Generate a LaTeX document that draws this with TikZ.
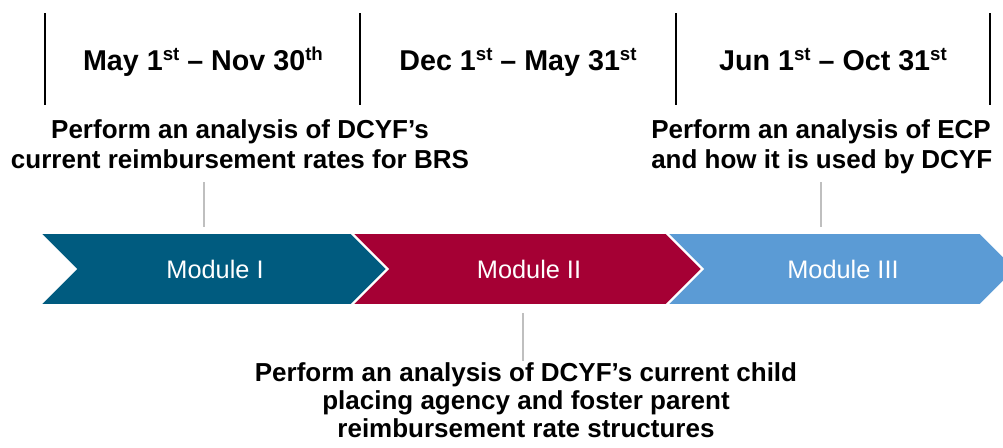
\documentclass[tikz,border=0pt]{standalone}
\usepackage{fontspec}
\setmainfont{Liberation Sans}
\usepackage{xcolor}

\definecolor{modone}{RGB}{0,91,127}
\definecolor{modtwo}{RGB}{165,0,52}
\definecolor{modthree}{RGB}{91,155,213}
\definecolor{leadergray}{RGB}{191,191,191}

\newcommand{\ordsup}[1]{\raisebox{6.8pt}{\fontsize{14}{14}\selectfont #1}}

\tikzset{
  datelabel/.style={font=\fontsize{21.5}{26}\selectfont\bfseries, inner sep=0.75pt},
  tasklabel/.style={font=\fontsize{19.5}{22.5}\selectfont\bfseries, inner sep=0.75pt},
  modlabel/.style={font=\fontsize{19}{23}\selectfont, text=white, inner sep=0.75pt},
  chevron/.style={draw=white, line width=1.2pt, line join=miter},
  divider/.style={color=black, line width=1pt},
  leader/.style={color=leadergray, line width=1.3pt},
}

\begin{document}
\begin{tikzpicture}[x=0.75pt,y=0.75pt,yscale=-1,xscale=1]
\useasboundingbox (0,0) rectangle (1003,447);
\clip (0,0) rectangle (1003,447);

%Shape: Divider lines
\draw [divider] (45,13) -- (45,105) ;
\draw [divider] (360,13) -- (360,105) ;
\draw [divider] (676,13) -- (676,105) ;
\draw [divider] (990,13) -- (990,105) ;

% Text Node
\draw (203,70) node (date1) [anchor=base][datelabel] {May 1\ordsup{st} -- Nov 30\ordsup{th}};
% Text Node
\draw (518,70) node (date2) [anchor=base][datelabel] {Dec 1\ordsup{st} -- May 31\ordsup{st}};
% Text Node
\draw (833,70) node (date3) [anchor=base][datelabel] {Jun 1\ordsup{st} -- Oct 31\ordsup{st}};

%Shape: Chevron
\draw [chevron, fill=modone] (40,233) -- (351,233) -- (387,269) -- (351,305) -- (40,305) -- (76,269) -- cycle ;
%Shape: Chevron
\draw [chevron, fill=modtwo] (352,233) -- (666,233) -- (702,269) -- (666,305) -- (352,305) -- (388,269) -- cycle ;
%Shape: Chevron
\draw [chevron, fill=modthree] (667,233) -- (980,233) -- (1016,269) -- (980,305) -- (667,305) -- (703,269) -- cycle ;

% Text Node
\draw (215,269) node (mod1) [modlabel] {Module I};
% Text Node
\draw (529,269) node (mod2) [modlabel] {Module II};
% Text Node
\draw (843,269) node (mod3) [modlabel] {Module III};

% Text Node
\draw (240,118) node (task1) [anchor=north][tasklabel][align=center] {Perform an analysis of DCYF’s\\current reimbursement rates for BRS};
% Text Node
\draw (650,118) node (task3) [anchor=north west][tasklabel][align=left] {Perform an analysis of ECP\\and how it is used by DCYF};
% Text Node
\draw (526,361) node (task2) [anchor=north][tasklabel][align=center,font=\fontsize{19.5}{21}\selectfont\bfseries] {Perform an analysis of DCYF’s current child\\placing agency and foster parent\\reimbursement rate structures};

%Leader lines
\coordinate (lead1a) at (204,182);
\coordinate (lead1b) at (204,227);
\coordinate (lead2a) at (523,313);
\coordinate (lead2b) at (523,361);
\coordinate (lead3a) at (821,182);
\coordinate (lead3b) at (821,227);
\draw [leader] (lead1a) -- (lead1b) ;
\draw [leader] (lead2a) -- (lead2b) ;
\draw [leader] (lead3a) -- (lead3b) ;

\end{tikzpicture}
\end{document}
